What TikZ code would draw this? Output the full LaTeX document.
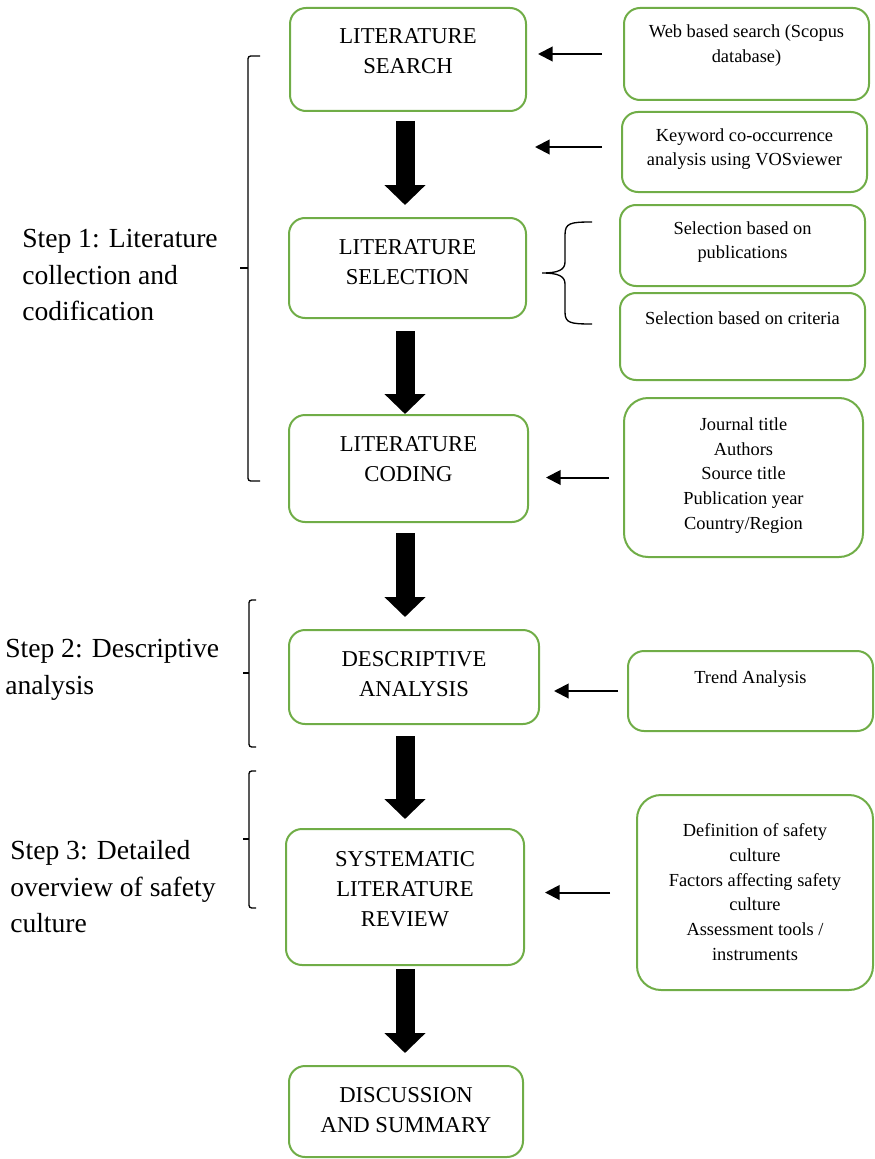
\documentclass[tikz,border=0pt]{standalone}
\usepackage{fontspec}
\setmainfont{Liberation Serif}
\usetikzlibrary{arrows.meta}
\definecolor{boxgreen}{RGB}{112,173,71}

\begin{document}
\begin{tikzpicture}[x=0.75pt, y=-0.75pt,
	box/.style={draw=boxgreen, line width=1.5pt, rounded corners=12pt, inner sep=0pt},
	bigbox/.style={box, rounded corners=18pt},
	maintext/.style={font=\fontsize{17}{22.5}\selectfont, align=center, inner sep=0pt},
	smalltext/.style={font=\fontsize{13.8}{18.5}\selectfont, align=center, inner sep=0pt},
	steptext/.style={font=\fontsize{20.7}{27.4}\selectfont, align=left, inner sep=0pt, anchor=west},
	bigarrow/.style={line width=14.25pt, -{Triangle[width=30pt, length=15pt]}},
	thinarrow/.style={line width=1.5pt, -{Triangle[width=11pt, length=11pt]}},
	bracket/.style={line width=1pt, rounded corners=2pt}]
	\useasboundingbox (0,0) rectangle (874,1159);

	% main column
	\node[box, minimum width=177pt, minimum height=77.25pt] (search) at (408,59.5) {};
	\node[box, minimum width=177.75pt, minimum height=75pt] (selection) at (407.5,268) {};
	\node[box, minimum width=179.25pt, minimum height=80.25pt] (coding) at (408.5,468.5) {};
	\node[box, minimum width=187.5pt, minimum height=70.5pt] (descriptive) at (414,677) {};
	\node[box, minimum width=178.5pt, minimum height=102pt] (systematic) at (405,897) {};
	\node[box, minimum width=175.5pt, minimum height=68.25pt] (discussion) at (406,1111.5) {};

	\node[maintext] (searchtxt) at (408,51.5) {LITERATURE\\SEARCH};
	\node[maintext] (selectiontxt) at (407.5,262.5) {LITERATURE\\SELECTION};
	\node[maintext] (codingtxt) at (408.5,459.5) {LITERATURE\\CODING};
	\node[maintext] (descriptivetxt) at (414,674) {DESCRIPTIVE\\ANALYSIS};
	\node[maintext] (systematictxt) at (405,889) {SYSTEMATIC\\LITERATURE\\REVIEW};
	\node[maintext] (discussiontxt) at (406,1110) {DISCUSSION\\AND SUMMARY};

	% side boxes
	\node[box, minimum width=183.75pt, minimum height=69pt] (web) at (746.5,54) {};
	\node[box, minimum width=183.75pt, minimum height=60pt] (keyword) at (744.5,152) {};
	\node[box, minimum width=183.75pt, minimum height=60.75pt] (pubs) at (742.5,245.5) {};
	\node[box, minimum width=183.75pt, minimum height=65.25pt] (criteria) at (742.5,336.5) {};
	\node[bigbox, minimum width=179.25pt, minimum height=119.25pt] (journal) at (743.5,477.5) {};
	\node[box, minimum width=183.75pt, minimum height=60pt] (trend) at (750.5,691) {};
	\node[bigbox, minimum width=177pt, minimum height=146.25pt] (topics) at (755,892.5) {};

	\node[smalltext] (webtxt) at (746.5,45.5) {Web based search (Scopus\\database)};
	\node[smalltext] (keywordtxt) at (744.5,149) {Keyword co-occurrence\\analysis using VOSviewer};
	\node[smalltext] (pubstxt) at (742.5,242) {Selection based on\\publications};
	\node[smalltext] (criteriatxt) at (742.5,318) {Selection based on criteria};
	\node[smalltext] (journaltxt) at (743.5,475.5) {Journal title\\Authors\\Source title\\Publication year\\Country/Region};
	\node[smalltext] (trendtxt) at (750.5,679) {Trend Analysis};
	\node[smalltext] (topicstxt) at (755,892) {Definition of safety\\culture\\Factors affecting safety\\culture\\Assessment tools /\\instruments};

	% step labels
	\node[steptext] (step1) at (22,275) {Step 1: Literature\\collection and\\codification};
	\node[steptext] (step2) at (5,670) {Step 2: Descriptive\\analysis};
	\node[steptext] (step3) at (10,887) {Step 3: Detailed\\overview of safety\\culture};

	% big arrows
	\coordinate (axis) at (405,0);
	\draw[bigarrow, shorten <=6.75pt, shorten >=9pt] (search.south -| axis) -- (selection.north -| axis);
	\draw[bigarrow, shorten <=9pt] (selection.south -| axis) -- (coding.north -| axis);
	\draw[bigarrow, shorten <=7.5pt, shorten >=9pt] (coding.south -| axis) -- (descriptive.north -| axis);
	\draw[bigarrow, shorten <=8.25pt, shorten >=6.75pt] (descriptive.south -| axis) -- (systematic.north -| axis);
	\draw[bigarrow, shorten <=2.25pt, shorten >=9pt] (systematic.south -| axis) -- (discussion.north -| axis);

	% small arrows
	\coordinate (kwend) at (535,147);
	\draw[thinarrow, shorten <=15.75pt, shorten >=8.25pt] (web.west) -- (web.west -| search.east);
	\draw[thinarrow, shorten <=14.25pt] (keyword.west |- kwend) -- (kwend);
	\draw[thinarrow, shorten <=10.5pt, shorten >=12.75pt] (journal.west) -- (journal.west -| coding.east);
	\draw[thinarrow, shorten <=6.75pt, shorten >=10.5pt] (trend.west) -- (trend.west -| descriptive.east);
	\draw[thinarrow, shorten <=19.5pt, shorten >=15pt] (topics.west) -- (topics.west -| systematic.east);

	% curly brace
	\draw[line width=1pt] (592,222) .. controls (570,222) and (565,223) .. (565,235) -- (565,262)
		.. controls (565,270) and (558,273) .. (542,273)
		.. controls (558,273) and (565,276) .. (565,284) -- (565,312)
		.. controls (565,323) and (570,324) .. (592,324);

	% brackets
	\draw[bracket] (260,56) -- (248,56) -- (248,481) -- (260,481);
	\draw[bracket] (248,268) -- (240,268);
	\draw[bracket] (256,600) -- (249,600) -- (249,747) -- (256,747);
	\draw[bracket] (249,673) -- (243,673);
	\draw[bracket] (256,771) -- (249,771) -- (249,908) -- (256,908);
	\draw[bracket] (249,839) -- (243,839);
\end{tikzpicture}
\end{document}
